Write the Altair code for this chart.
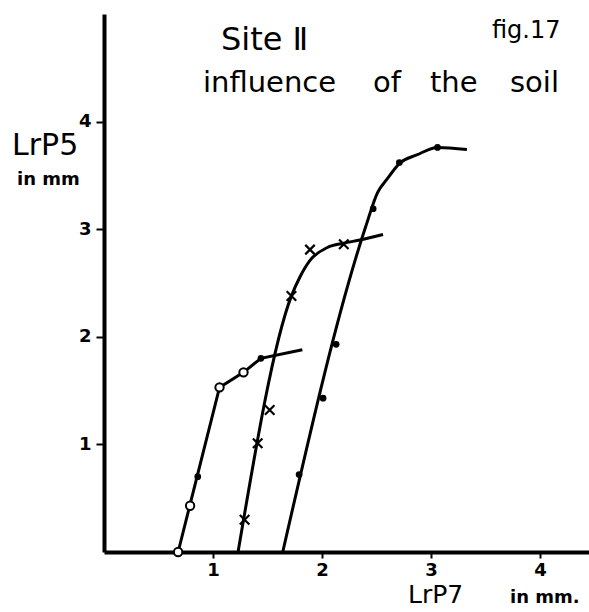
import altair as alt
import pandas as pd

# Drawn curves: LrP7 (x, mm) against LrP5 (y, mm)
curve_a_x = [0.68, 1.06, 1.28, 1.44, 1.82]
curve_a_y = [0.00, 1.53, 1.67, 1.80, 1.88]
curve_b_x = [1.23, 1.72, 1.80, 1.89, 2.05, 2.20, 2.35, 2.56]
curve_b_y = [0.00, 2.38, 2.56, 2.71, 2.83, 2.87, 2.90, 2.95]
curve_c_x = [1.64, 2.40, 2.51, 2.60, 2.71, 2.87, 3.06, 3.33]
curve_c_y = [0.00, 3.02, 3.34, 3.47, 3.61, 3.69, 3.76, 3.74]

# Measured points
open_x = [0.68, 0.79, 1.06, 1.28]
open_y = [0.00, 0.43, 1.53, 1.67]
dot_x = [0.86, 1.44, 1.79, 2.01, 2.13, 2.47, 2.71, 3.06]
dot_y = [0.70, 1.80, 0.72, 1.43, 1.93, 3.19, 3.62, 3.76]
cross_x = [1.29, 1.41, 1.52, 1.72, 1.89, 2.20]
cross_y = [0.30, 1.01, 1.32, 2.38, 2.81, 2.86]

tick_values = [1, 2, 3, 4]

FONT = "DejaVu Sans"

lines_straight = pd.DataFrame({"x": curve_a_x, "y": curve_a_y, "curve": "a"})
lines_smooth = pd.concat([
    pd.DataFrame({"x": curve_b_x, "y": curve_b_y, "curve": "b"}),
    pd.DataFrame({"x": curve_c_x, "y": curve_c_y, "curve": "c"}),
])
open_df = pd.DataFrame({"x": open_x, "y": open_y})
dot_df = pd.DataFrame({"x": dot_x, "y": dot_y})
cross_df = pd.DataFrame({"x": cross_x, "y": cross_y})

x_enc = alt.X(
    "x:Q",
    scale=alt.Scale(domain=[0, 4.45], nice=False, zero=False),
    axis=alt.Axis(
        values=tick_values, format="d", title=None, grid=False,
        domainColor="black", domainWidth=4,
        tickColor="black", tickWidth=2, tickSize=6,
        labelFont=FONT, labelFontSize=18, labelFontWeight="bold",
        labelColor="black", labelPadding=3,
    ),
)
y_enc = alt.Y(
    "y:Q",
    scale=alt.Scale(domain=[0, 5], nice=False, zero=False),
    axis=alt.Axis(
        values=tick_values, format="d", title=None, grid=False,
        domainColor="black", domainWidth=4,
        tickColor="black", tickWidth=2, tickSize=8,
        labelFont=FONT, labelFontSize=18, labelFontWeight="bold",
        labelColor="black", labelPadding=5,
    ),
)

line_a = alt.Chart(lines_straight).mark_line(
    color="black", strokeWidth=3, interpolate="linear"
).encode(x=x_enc, y=y_enc, detail="curve:N")

line_bc = alt.Chart(lines_smooth).mark_line(
    color="black", strokeWidth=3, interpolate="monotone"
).encode(x="x:Q", y="y:Q", detail="curve:N")

open_pts = alt.Chart(open_df).mark_point(
    shape="circle", size=70, filled=True, fill="white", stroke="black",
    strokeWidth=2, opacity=1
).encode(x="x:Q", y="y:Q")

dot_pts = alt.Chart(dot_df).mark_point(
    shape="circle", size=45, filled=True, color="black", opacity=1
).encode(x="x:Q", y="y:Q")

cross_pts = alt.Chart(cross_df).mark_point(
    shape="M-1,-1L1,1M-1,1L1,-1", size=90, filled=False,
    stroke="black", strokeWidth=2.2, opacity=1
).encode(x="x:Q", y="y:Q")


def label(text, px, py, size, weight="normal", align="left"):
    return alt.Chart(pd.DataFrame({"t": [text]})).mark_text(
        font=FONT, fontSize=size, fontWeight=weight, align=align,
        baseline="alphabetic", color="black",
    ).encode(x=alt.value(px), y=alt.value(py), text="t:N")


texts = [
    label("Site Ⅱ", 117, 36, 32),
    label("fig.17", 388, 24, 24),
    label("influence", 99, 78, 29),
    label("of", 269, 78, 29),
    label("the", 326, 78, 29),
    label("soil", 406, 78, 29),
    label("LrP5", -92, 141, 30),
    label("in mm", -87, 171, 18, weight="bold"),
    label("LrP7", 304, 589, 25),
    label("in mm.", 406, 589, 18, weight="bold"),
]

chart = alt.layer(line_a, line_bc, open_pts, dot_pts, cross_pts, *texts).properties(
    width=485,
    height=538,
    padding={"left": 104, "top": 14, "right": 0, "bottom": 60},
    autosize=alt.AutoSizeParams(type="none"),
    background="white",
).configure_view(stroke=None)

chart.save("out.html", embed_options={"renderer": "svg", "actions": False})
